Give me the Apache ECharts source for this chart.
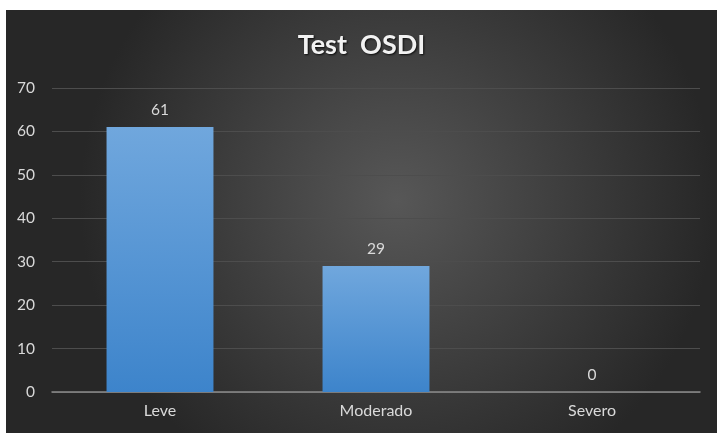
<!DOCTYPE html>
<html>
<head>
<meta charset="utf-8">
<script src="https://cdn.jsdelivr.net/npm/echarts@6/dist/echarts.min.js"></script>
<style>
html,body{margin:0;padding:0;background:#ffffff;width:717px;height:433px;overflow:hidden;}
#c{position:absolute;left:6px;top:10px;width:711px;height:423px;}
</style>
</head>
<body>
<div id="c"></div>
<script>
const categories = ['Leve', 'Moderado', 'Severo'];
const values = [61, 29, 0];
const yTicks = [0, 10, 20, 30, 40, 50, 60, 70];

const chart = echarts.init(document.getElementById('c'));
chart.setOption({
  backgroundColor: {
    type: 'radial', x: 0.55, y: 0.45, r: 0.75,
    colorStops: [{offset: 0, color: '#575757'}, {offset: 1, color: '#272727'}]
  },
  textStyle: {fontFamily: 'Lato'},
  title: {
    text: 'Test  OSDI',
    left: 'center',
    top: 17,
    textStyle: {
      color: '#f2f2f2', fontSize: 27, fontWeight: 'bold', fontFamily: 'Lato',
      textShadowColor: 'rgba(0,0,0,0.8)', textShadowBlur: 2, textShadowOffsetX: 1, textShadowOffsetY: 1
    }
  },
  grid: {left: 46, right: 17, top: 78, bottom: 41, containLabel: false},
  xAxis: {
    type: 'category',
    data: categories,
    axisLine: {lineStyle: {color: '#8c8c8c', width: 1.5}},
    axisTick: {show: false},
    axisLabel: {color: '#d9d9d9', fontSize: 16, margin: 11, fontFamily: 'Lato'}
  },
  yAxis: {
    type: 'value',
    min: yTicks[0], max: yTicks[yTicks.length - 1], interval: 10,
    axisLine: {show: false},
    axisTick: {show: false},
    axisLabel: {color: '#d9d9d9', fontSize: 15.5, margin: 17, fontFamily: 'Lato'},
    splitLine: {lineStyle: {color: '#4d4d4d', width: 1}}
  },
  series: [{
    type: 'bar',
    data: values,
    barWidth: '49.5%',
    itemStyle: {
      color: {
        type: 'linear', x: 0, y: 0, x2: 0, y2: 1,
        colorStops: [{offset: 0, color: '#70a7dd'}, {offset: 1, color: '#3d84cb'}]
      }
    },
    label: {show: true, position: 'top', distance: 9, color: '#d9d9d9', fontSize: 15.5, fontFamily: 'Lato'}
  }]
});
</script>
</body>
</html>
